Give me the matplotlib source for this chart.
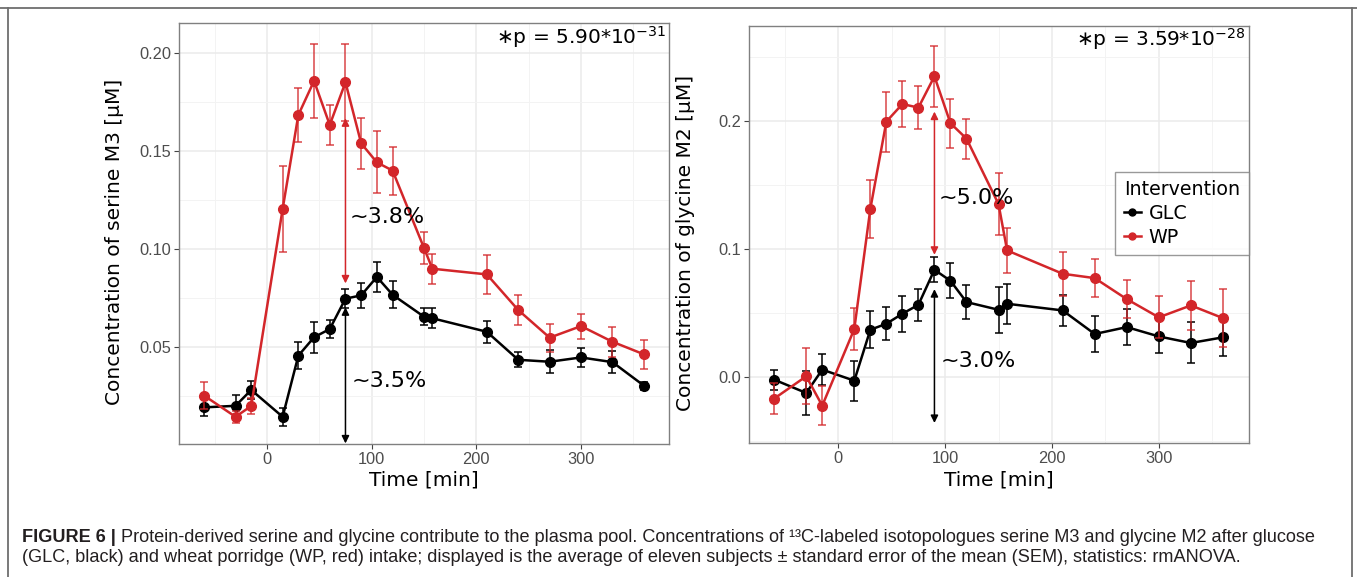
import numpy as np
import matplotlib
matplotlib.use('Agg')
import matplotlib.pyplot as plt
from matplotlib.lines import Line2D

# sampling times [min]
time = [-60, -30, -15, 15, 30, 45, 60, 75, 90, 105, 120, 150, 158, 210, 240, 270, 300, 330, 360]

# serine M3
ser_glc = [0.0192, 0.0200, 0.0281, 0.0144, 0.0456, 0.0550, 0.0592, 0.0747, 0.0764, 0.0858,
           0.0767, 0.0655, 0.0647, 0.0578, 0.0435, 0.0425, 0.0447, 0.0423, 0.0303]
ser_glc_se = [0.0043, 0.0055, 0.0044, 0.0045, 0.0068, 0.0080, 0.0045, 0.0050, 0.0063, 0.0075,
              0.0068, 0.0043, 0.0050, 0.0057, 0.0038, 0.0058, 0.0048, 0.0058, 0.0020]
ser_wp = [0.0252, 0.0144, 0.0199, 0.1205, 0.1685, 0.1859, 0.1634, 0.1852, 0.1540, 0.1443,
          0.1401, 0.1006, 0.0900, 0.0871, 0.0689, 0.0548, 0.0607, 0.0527, 0.0463]
ser_wp_se = [0.0070, 0.0030, 0.0040, 0.0220, 0.0140, 0.0190, 0.0100, 0.0196, 0.0130, 0.0158,
             0.0123, 0.0080, 0.0077, 0.0100, 0.0076, 0.0072, 0.0064, 0.0076, 0.0074]

# glycine M2
gly_glc = [-0.0018, -0.0122, 0.0060, -0.0026, 0.0371, 0.0418, 0.0496, 0.0566, 0.0839, 0.0753,
           0.0587, 0.0527, 0.0574, 0.0522, 0.0338, 0.0392, 0.0319, 0.0268, 0.0312]
gly_glc_se = [0.0078, 0.0175, 0.0123, 0.0156, 0.0143, 0.0127, 0.0142, 0.0125, 0.0097, 0.0136,
              0.0135, 0.0180, 0.0158, 0.0122, 0.0140, 0.0143, 0.0130, 0.0160, 0.0146]
gly_wp = [-0.0166, 0.0008, -0.0221, 0.0377, 0.1314, 0.1995, 0.2132, 0.2104, 0.2348, 0.1982,
          0.1862, 0.1351, 0.0990, 0.0808, 0.0774, 0.0610, 0.0468, 0.0561, 0.0462]
gly_wp_se = [0.0120, 0.0217, 0.0150, 0.0164, 0.0226, 0.0234, 0.0182, 0.0165, 0.0240, 0.0190,
             0.0155, 0.0244, 0.0175, 0.0173, 0.0150, 0.0147, 0.0164, 0.0192, 0.0226]

# arrows: x, WP top, WP bottom, GLC top, GLC bottom, and the percentages
ser_arrow = (75, 0.1668, 0.0825, 0.0703, 0.0008)
gly_arrow = (90, 0.2073, 0.0956, 0.0688, -0.0356)
ser_pct = ['~3.8%', '~3.5%']
gly_pct = ['~5.0%', '~3.0%']
ser_p = r'$\ast$p = 5.90*10$^{-31}$'
gly_p = r'$\ast$p = 3.59*10$^{-28}$'

RED = '#D3262A'
BLACK = '#000000'
TITLE_FONT = 'DejaVu Sans'
TICK_FONT = 'Liberation Sans'

fig = plt.figure(figsize=(13.57, 5.77), dpi=100)
fig.patch.set_facecolor('white')

ax1 = fig.add_axes([0.1319, 0.2305, 0.3611, 0.7291])
ax2 = fig.add_axes([0.5516, 0.2314, 0.3685, 0.7236])


def draw_panel(ax, glc, glc_se, wp, wp_se, arrow, pct, ptxt, ylabel, ylim, yticks, yminor, ytl):
    ax.set_xlim(-84, 384)
    ax.set_ylim(*ylim)
    ax.set_xticks([0, 100, 200, 300])
    ax.set_xticks([-50, 50, 150, 250, 350], minor=True)
    ax.set_yticks(yticks)
    ax.set_yticks(yminor, minor=True)
    ax.set_yticklabels(ytl)
    ax.grid(True, which='major', color='#EBEBEB', lw=1.1, zorder=0)
    ax.grid(True, which='minor', color='#F3F3F3', lw=0.7, zorder=0)
    ax.set_axisbelow(True)
    ax.tick_params(which='major', length=3.5, width=0.8, color='#444444', labelsize=11.8,
                   labelcolor='#4D4D4D', pad=2)
    ax.tick_params(which='minor', length=0)
    for lab in ax.get_xticklabels() + ax.get_yticklabels():
        lab.set_family(TICK_FONT)
    for s in ax.spines.values():
        s.set_color('#808080')
        s.set_linewidth(1.0)

    ax.errorbar(time, glc, yerr=glc_se, fmt='none', ecolor=BLACK, elinewidth=1.1,
                capsize=3.2, capthick=1.1, zorder=3)
    ax.plot(time, glc, color=BLACK, lw=1.8, marker='o', ms=7, zorder=4, label='GLC')
    ax.errorbar(time, wp, yerr=wp_se, fmt='none', ecolor=RED, alpha=0.85, elinewidth=1.1,
                capsize=3.2, capthick=1.1, zorder=5)
    ax.plot(time, wp, color=RED, lw=1.8, marker='o', ms=7, zorder=6, label='WP')

    x, r_top, r_bot, k_top, k_bot = arrow
    ax.annotate('', xy=(x, r_bot), xytext=(x, r_top),
                arrowprops=dict(arrowstyle='<|-|>', color=RED, lw=1.1, mutation_scale=11,
                                shrinkA=0, shrinkB=0), zorder=7)
    ax.annotate('', xy=(x, k_bot), xytext=(x, k_top),
                arrowprops=dict(arrowstyle='<|-|>', color=BLACK, lw=1.1, mutation_scale=11,
                                shrinkA=0, shrinkB=0), zorder=7)
    ax.text(x + 4, r_bot + (r_top - r_bot) * 0.4, pct[0], fontsize=16, family=TITLE_FONT,
            va='center', ha='left', zorder=8)
    ax.text(x + 6, k_bot + (k_top - k_bot) * 0.46, pct[1], fontsize=16, family=TITLE_FONT,
            va='center', ha='left', zorder=8)

    ax.text(0.995, 0.968, ptxt, transform=ax.transAxes, ha='right', va='center',
            fontsize=14.5, family=TITLE_FONT)
    ax.set_xlabel('Time [min]', fontsize=14.5, family=TITLE_FONT, labelpad=3)
    ax.set_ylabel(ylabel, fontsize=14.5, family=TITLE_FONT)


draw_panel(ax1, ser_glc, ser_glc_se, ser_wp, ser_wp_se, ser_arrow, ser_pct, ser_p,
           'Concentration of serine M3 [µM]', (0.0005, 0.2153),
           [0.05, 0.10, 0.15, 0.20], [0.025, 0.075, 0.125, 0.175],
           ['0.05', '0.10', '0.15', '0.20'])
draw_panel(ax2, gly_glc, gly_glc_se, gly_wp, gly_wp_se, gly_arrow, gly_pct, gly_p,
           'Concentration of glycine M2 [µM]', (-0.0516, 0.2741),
           [0.0, 0.1, 0.2], [-0.05, 0.05, 0.15, 0.25],
           ['0.0', '0.1', '0.2'])
ax1.yaxis.set_label_coords(-0.112, 0.48)
ax2.yaxis.set_label_coords(-0.107, 0.48)

handles = [Line2D([], [], color=BLACK, lw=1.8, marker='o', ms=5),
           Line2D([], [], color=RED, lw=1.8, marker='o', ms=5)]
leg = ax2.legend(handles, ['GLC', 'WP'], title='Intervention', loc='upper right',
                 bbox_to_anchor=(1.0, 0.651), borderaxespad=0, frameon=True, fancybox=False,
                 handlelength=0.9, handletextpad=0.4, labelspacing=0.25, borderpad=0.45,
                 prop={'family': TITLE_FONT, 'size': 13.7},
                 title_fontproperties={'family': TITLE_FONT, 'size': 13.7})
leg._legend_box.align = 'left'
leg.get_frame().set_edgecolor('#808080')
leg.get_frame().set_linewidth(1.0)
leg.set_zorder(10)

# frame around the figure
for xs, ys in [([0, 1], [1 - 7.5 / 577] * 2),
               ([7.5 / 1357] * 2, [0, 1 - 7.5 / 577]),
               ([1 - 5.5 / 1357] * 2, [0, 1 - 7.5 / 577])]:
    fig.add_artist(Line2D(xs, ys, transform=fig.transFigure, color='#6E6E6E', lw=1.3))

# caption
cap_font = 'Liberation Sans'
cap_size = 13.05
y1 = 1 - 537 / 577
y2 = 1 - 558 / 577
bold = fig.text(22 / 1357, y1, 'FIGURE 6 |', fontsize=cap_size, family=cap_font,
                weight='bold', va='center', ha='left', color='#231F20')
fig.canvas.draw()
bb = bold.get_window_extent(fig.canvas.get_renderer())
fig.text(bb.x1 / fig.bbox.width, y1,
         ' Protein-derived serine and glycine contribute to the plasma pool. Concentrations of '
         '¹³C-labeled isotopologues serine M3 and glycine M2 after glucose',
         fontsize=cap_size, family=cap_font, va='center', ha='left', color='#231F20')
fig.text(22 / 1357, y2,
         '(GLC, black) and wheat porridge (WP, red) intake; displayed is the average of eleven '
         'subjects ± standard error of the mean (SEM), statistics: rmANOVA.',
         fontsize=cap_size, family=cap_font, va='center', ha='left', color='#231F20')

fig.savefig('out.png', dpi=100)
